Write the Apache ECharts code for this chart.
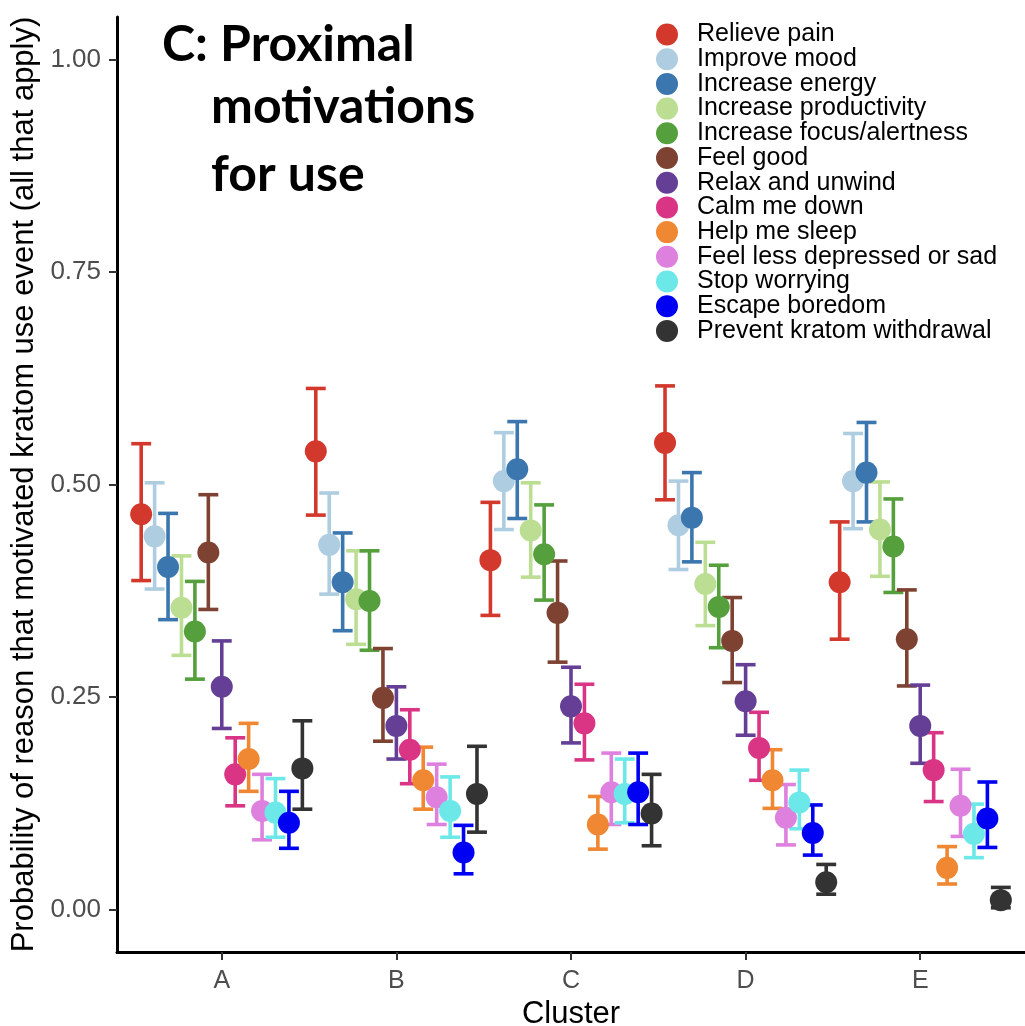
<!DOCTYPE html>
<html>
<head>
<meta charset="utf-8">
<script src="https://cdn.jsdelivr.net/npm/echarts@6/dist/echarts.min.js"></script>
<style>
  html, body { margin: 0; padding: 0; background: #fff; }
  #chart { width: 1025px; height: 1026px; }
</style>
</head>
<body>
<div id="chart"></div>
<script>
var clusters = ['A', 'B', 'C', 'D', 'E'];
var reasons = ['Relieve pain', 'Improve mood', 'Increase energy', 'Increase productivity',
    'Increase focus/alertness', 'Feel good', 'Relax and unwind', 'Calm me down',
    'Help me sleep', 'Feel less depressed or sad', 'Stop worrying', 'Escape boredom',
    'Prevent kratom withdrawal'];
var colors = ['#d3382d', '#aecde1', '#3b76af', '#bcde93', '#55a03d', '#7e4233', '#643f95',
    '#da3484', '#ef8733', '#de80de', '#6ce8e8', '#0000f2', '#333333'];

// estimates per reason, clusters A..E
var est = [
    [0.465, 0.539, 0.411, 0.549, 0.385],
    [0.439, 0.429, 0.504, 0.452, 0.504],
    [0.403, 0.385, 0.518, 0.461, 0.514],
    [0.355, 0.365, 0.446, 0.383, 0.447],
    [0.327, 0.363, 0.418, 0.356, 0.427],
    [0.420, 0.249, 0.349, 0.316, 0.318],
    [0.262, 0.216, 0.239, 0.245, 0.216],
    [0.159, 0.188, 0.219, 0.190, 0.164],
    [0.177, 0.152, 0.100, 0.152, 0.049],
    [0.116, 0.132, 0.138, 0.108, 0.122],
    [0.114, 0.116, 0.136, 0.126, 0.089],
    [0.102, 0.067, 0.138, 0.090, 0.107],
    [0.166, 0.136, 0.113, 0.032, 0.011]
];
// lower bounds
var lo = [
    [0.387, 0.464, 0.346, 0.482, 0.318],
    [0.377, 0.371, 0.447, 0.400, 0.448],
    [0.341, 0.328, 0.460, 0.409, 0.456],
    [0.299, 0.312, 0.391, 0.334, 0.392],
    [0.271, 0.305, 0.364, 0.308, 0.373],
    [0.353, 0.198, 0.291, 0.267, 0.263],
    [0.213, 0.177, 0.196, 0.205, 0.172],
    [0.122, 0.148, 0.176, 0.152, 0.127],
    [0.139, 0.118, 0.071, 0.119, 0.030],
    [0.082, 0.100, 0.100, 0.076, 0.086],
    [0.085, 0.085, 0.102, 0.095, 0.061],
    [0.072, 0.042, 0.100, 0.064, 0.073],
    [0.118, 0.091, 0.075, 0.018, 0.002]
];
// upper bounds
var hi = [
    [0.548, 0.613, 0.479, 0.616, 0.456],
    [0.502, 0.490, 0.561, 0.504, 0.560],
    [0.466, 0.443, 0.574, 0.514, 0.573],
    [0.416, 0.422, 0.502, 0.432, 0.503],
    [0.386, 0.422, 0.476, 0.405, 0.483],
    [0.488, 0.307, 0.410, 0.367, 0.376],
    [0.316, 0.262, 0.285, 0.288, 0.264],
    [0.202, 0.235, 0.265, 0.232, 0.208],
    [0.219, 0.191, 0.133, 0.188, 0.074],
    [0.159, 0.171, 0.184, 0.147, 0.165],
    [0.154, 0.156, 0.177, 0.164, 0.124],
    [0.139, 0.099, 0.184, 0.123, 0.150],
    [0.222, 0.192, 0.159, 0.053, 0.026]
];
var yTicks = [0, 0.25, 0.5, 0.75, 1];

var font = 'Liberation Sans, Arial, sans-serif';
var dodge = 1 / reasons.length;
var capHalf = 0.057;

var errSeries = [];
var ptSeries = [];
reasons.forEach(function (name, i) {
    var off = (i - (reasons.length - 1) / 2) * dodge;
    var bars = [], pts = [];
    clusters.forEach(function (c, k) {
        bars.push([k + 1 + off, lo[i][k], hi[i][k]]);
        pts.push([k + 1 + off, est[i][k]]);
    });
    errSeries.push({
        name: name,
        type: 'custom',
        z: 2,
        itemStyle: {color: colors[i]},
        data: bars,
        renderItem: function (params, api) {
            var x = api.value(0);
            var a = api.coord([x, api.value(1)]);
            var b = api.coord([x, api.value(2)]);
            var l1 = api.coord([x - capHalf, api.value(1)]);
            var r1 = api.coord([x + capHalf, api.value(1)]);
            var l2 = api.coord([x - capHalf, api.value(2)]);
            var r2 = api.coord([x + capHalf, api.value(2)]);
            var st = {stroke: colors[i], lineWidth: 3.6};
            return {
                type: 'group',
                children: [
                    {type: 'line', shape: {x1: a[0], y1: a[1], x2: b[0], y2: b[1]}, style: st},
                    {type: 'line', shape: {x1: l1[0], y1: l1[1], x2: r1[0], y2: r1[1]}, style: st},
                    {type: 'line', shape: {x1: l2[0], y1: l2[1], x2: r2[0], y2: r2[1]}, style: st}
                ]
            };
        }
    });
    ptSeries.push({
        name: name,
        type: 'scatter',
        z: 3,
        symbol: 'circle',
        symbolSize: 22,
        itemStyle: {color: colors[i], opacity: 1},
        data: pts
    });
});

var myChart = echarts.init(document.getElementById('chart'));
myChart.setOption({
    animation: false,
    grid: {left: 117, right: 0, top: 17, bottom: 74, outerBoundsMode: 'none'},
    legend: {
        orient: 'vertical',
        left: 651,
        top: 17,
        itemWidth: 22,
        itemHeight: 22,
        itemGap: -0.3,
        icon: 'circle',
        data: reasons,
        textStyle: {fontFamily: font, fontSize: 25, color: '#000', lineHeight: 22, padding: [0, 0, 0, 14]}
    },
    graphic: [
        {type: 'text', left: 162, top: 20, style: {text: 'C: Proximal', font: 'bold 50px Lato', fill: '#000'}},
        {type: 'text', left: 211, top: 82, style: {text: 'motivations', font: 'bold 50px Lato', fill: '#000'}},
        {type: 'text', left: 211, top: 150, style: {text: 'for use', font: 'bold 50px Lato', fill: '#000'}}
    ],
    xAxis: {
        type: 'value',
        min: 0.4,
        max: 5.6,
        name: 'Cluster',
        nameLocation: 'middle',
        nameGap: 44,
        nameTextStyle: {fontFamily: font, fontSize: 31, color: '#000'},
        axisLine: {onZero: false, lineStyle: {color: '#000', width: 3}},
        axisTick: {customValues: [1, 2, 3, 4, 5], length: 8, lineStyle: {color: '#333', width: 2}},
        axisLabel: {
            customValues: [1, 2, 3, 4, 5],
            margin: 17,
            fontFamily: font, fontSize: 25, color: '#4d4d4d',
            formatter: function (v) { return clusters[Math.round(v) - 1]; }
        },
        splitLine: {show: false}
    },
    yAxis: {
        type: 'value',
        min: -0.05,
        max: 1.05,
        name: 'Probability of reason that motivated kratom use event (all that apply)',
        nameLocation: 'middle',
        nameGap: 65,
        nameTextStyle: {fontFamily: font, fontSize: 31, color: '#000'},
        axisLine: {show: true, onZero: false, lineStyle: {color: '#000', width: 3}},
        axisTick: {show: true, customValues: yTicks, length: 8, lineStyle: {color: '#333', width: 2}},
        axisLabel: {
            customValues: yTicks,
            margin: 16,
            fontFamily: font, fontSize: 26, color: '#4d4d4d',
            formatter: function (v) { return v.toFixed(2); }
        },
        splitLine: {show: false}
    },
    series: errSeries.concat(ptSeries)
});
</script>
</body>
</html>
